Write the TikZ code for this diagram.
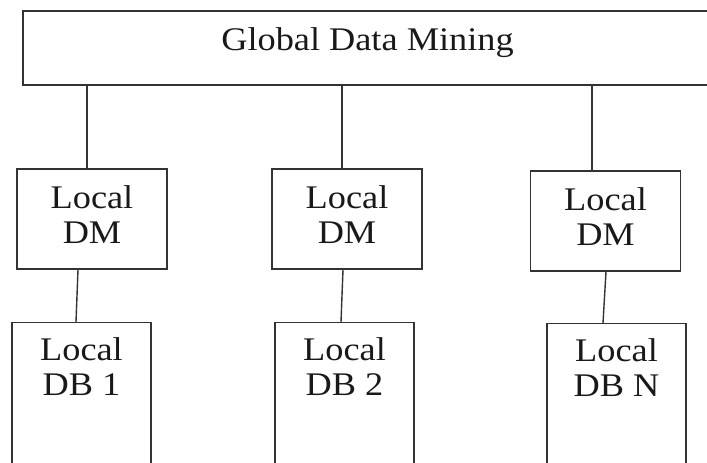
\documentclass[tikz,border=0pt]{standalone}
\usepackage{fontspec}
\setmainfont{Liberation Serif}[FakeStretch=1.1]
\usepackage{xcolor}

\begin{document}
\begin{tikzpicture}[x=1pt,y=-1pt]
	 \tikzstyle{box}=[rectangle,draw=black!80,line width=1.4pt,inner sep=0pt,align=center,font=\fontsize{33pt}{35pt}\selectfont,text=black!90]
	 \tikzstyle{top box}=[box,minimum width=689pt,minimum height=74pt,text depth=18.5pt]
	 \tikzstyle{dm box}=[box,minimum width=150pt,minimum height=100pt,text depth=9.5pt]
	 \tikzstyle{db box}=[box,minimum width=139pt,minimum height=160pt,anchor=north]
	 \tikzstyle{db text}=[inner sep=0pt,align=center,anchor=north,yshift=-15.5pt,font=\fontsize{33pt}{35pt}\selectfont,text=black!90]
	 \tikzstyle{edge}=[draw=black!80,line width=1.4pt]

	\clip (0,0) rectangle (707,463);

	\node[top box] (gdm) at (367.5,48) {Global Data Mining};

	\node[dm box] (dm1) at (92,219) {Local\\DM};
	 \node[dm box] (dm2) at (347,219) {Local\\DM};
	 \node[dm box] (dm3) at (605.5,221) {Local\\DM};

	\node[db box,label={[db text]north:{Local\\DB 1}}] (db1) at (81.5,322) {};
	 \node[db box,label={[db text]north:{Local\\DB 2}}] (db2) at (344.5,322) {};
	 \node[db box,label={[db text]north:{Local\\DB N}}] (db3) at (616.5,323) {};

	\draw[edge] ([xshift=-5pt]dm1.north) -- ([xshift=-5pt]gdm.south -| dm1.north);
	 \draw[edge] ([xshift=-5pt]dm2.north) -- ([xshift=-5pt]gdm.south -| dm2.north);
	 \draw[edge] ([xshift=-13.5pt]dm3.north) -- ([xshift=-13.5pt]gdm.south -| dm3.north);

	\draw[edge] ([xshift=-14pt]dm1.south) -- ([xshift=-5.5pt]db1.north);
	 \draw[edge] ([xshift=-4pt]dm2.south) -- ([xshift=-3.5pt]db2.north);
	 \draw[edge] ([xshift=0.5pt]dm3.south) -- ([xshift=-13.5pt]db3.north);
 \end{tikzpicture}
\end{document}
